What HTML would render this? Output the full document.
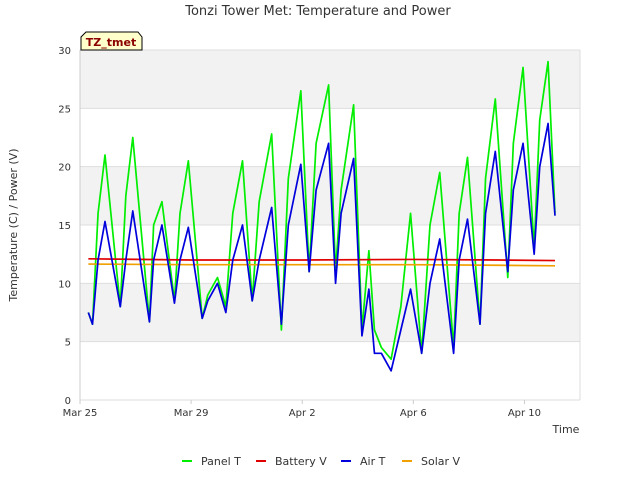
<!DOCTYPE html>
<html><head><meta charset="utf-8"><style>
body{margin:0;background:#fff;font-family:"Liberation Sans","DejaVu Sans",sans-serif}
svg text{font-family:"DejaVu Sans","Liberation Sans",sans-serif}
</style></head><body>
<svg id="c" width="640" height="480" xmlns="http://www.w3.org/2000/svg">
<text x="318" y="15" text-anchor="middle" font-size="13" fill="#333">Tonzi Tower Met: Temperature and Power</text>
<g id="bands"></g><g id="axes"></g><g id="series"></g>
<g><path d="M81,50 L81,37 L86,32 L138,32 L142,37 L142,50 Z" fill="#ffffcc" stroke="#000" stroke-width="1"/><text x="111" y="46" text-anchor="middle" font-size="11" font-weight="bold" fill="#8b0000">TZ_tmet</text></g>
<text x="566" y="433" text-anchor="middle" font-size="11" fill="#333">Time</text>
<text transform="translate(17,225) rotate(-90)" text-anchor="middle" font-size="11" fill="#333">Temperature (C) / Power (V)</text>
<g id="legend"></g>
</svg>
<script>
const times=[0.3,0.45,0.65,0.9,1.45,1.65,1.9,2.5,2.65,2.95,3.4,3.6,3.9,4.4,4.6,4.95,5.25,5.5,5.85,6.2,6.45,6.9,7.25,7.5,7.95,8.25,8.5,8.95,9.2,9.4,9.85,10.15,10.4,10.6,10.85,11.2,11.55,11.9,12.3,12.6,12.95,13.45,13.65,13.95,14.4,14.6,14.95,15.4,15.6,15.95,16.35,16.55,16.85,17.1];
const panelT=[7.5,6.5,16,21,8,17.5,22.5,6.7,15,17,8.5,16,20.5,7,9,10.5,8,16,20.5,8.5,17,22.8,6,19,26.5,11,22,27,11,18,25.3,6,12.8,6,4.5,3.5,8,16,4,15,19.5,4.5,16,20.8,6.5,19,25.8,10.5,22,28.5,13,24,29,16];
const airT=[7.5,6.5,12,15.3,8,12,16.2,6.7,12,15,8.3,12,14.8,7,8.5,10,7.5,12,15,8.5,12,16.5,6.5,15,20.2,11,18,22,10,16,20.7,5.5,9.5,4,4,2.5,6,9.5,4,10,13.8,4,12,15.5,6.5,16,21.3,11,18,22,12.5,20,23.7,15.8];
const flatTimes=[0.3,4,8,12,15,17.1];
const batteryV=[12.1,12.0,12.0,12.05,12.0,11.95];
const solarV=[11.65,11.6,11.6,11.6,11.55,11.5];
const xTickLabels=["Mar 25","Mar 29","Apr 2","Apr 6","Apr 10"];
const xTickDays=[0,4,8,12,16];
const yTicks=[0,5,10,15,20,25,30];
const NS="http://www.w3.org/2000/svg";
const X0=80,X1=580,Y0=400,Y1=50,DMAX=18;
const xs=d=>X0+(X1-X0)*d/DMAX, ys=v=>Y0-(Y0-Y1)*v/30;
function mk(t,a,p){const e=document.createElementNS(NS,t);for(const k in a)e.setAttribute(k,a[k]);p.appendChild(e);return e;}
const bands=document.getElementById('bands'),axes=document.getElementById('axes'),series=document.getElementById('series'),legend=document.getElementById('legend');
mk('rect',{x:X0,y:Y1,width:X1-X0,height:Y0-Y1,fill:'#fff'},bands);
for(let v=5;v<30;v+=10){const r=mk('rect',{x:X0,y:ys(v+5),width:X1-X0,height:ys(v)-ys(v+5),fill:'#f2f2f2'},bands);

}
yTicks.forEach(v=>{mk('line',{x1:X0,x2:X1,y1:ys(v),y2:ys(v),stroke:'#ddd'},axes);
const t=mk('text',{x:X0-9,y:ys(v)+4,'text-anchor':'end','font-size':10,fill:'#333'},axes);t.textContent=v;

});
mk('line',{x1:X0,x2:X0,y1:Y1,y2:Y0,stroke:'#ccc'},axes);
mk('line',{x1:X1,x2:X1,y1:Y1,y2:Y0,stroke:'#ddd'},axes);
xTickDays.forEach((d,i)=>{mk('line',{x1:xs(d),x2:xs(d),y1:Y0,y2:Y0+4,stroke:'#ccc'},axes);
const t=mk('text',{x:xs(d),y:Y0+16,'text-anchor':'middle','font-size':10,fill:'#333'},axes);t.textContent=xTickLabels[i];

});
function line(tt,vv,col,name){const p=mk('polyline',{points:tt.map((d,i)=>xs(d)+','+ys(vv[i])).join(' '),fill:'none',stroke:col,'stroke-width':1.7,'stroke-linejoin':'round'},series);

}
line(times,panelT,'#00ee00','panel-t-line');
line(flatTimes,batteryV,'#e00000','battery-v-line');
line(flatTimes,solarV,'#f0a000','solar-v-line');
line(times,airT,'#0000dd','air-t-line');
const leg=[['Panel T','#00ee00',182],['Battery V','#e00000',256],['Air T','#0000dd',341],['Solar V','#f0a000',402]];
leg.forEach(l=>{const g=mk('g',{},legend);


mk('line',{x1:l[2],x2:l[2]+10,y1:461,y2:461,stroke:l[1],'stroke-width':2},g);
const t=mk('text',{x:l[2]+19,y:465,'font-size':11,fill:'#333'},g);t.textContent=l[0];});
</script>
</body></html>
